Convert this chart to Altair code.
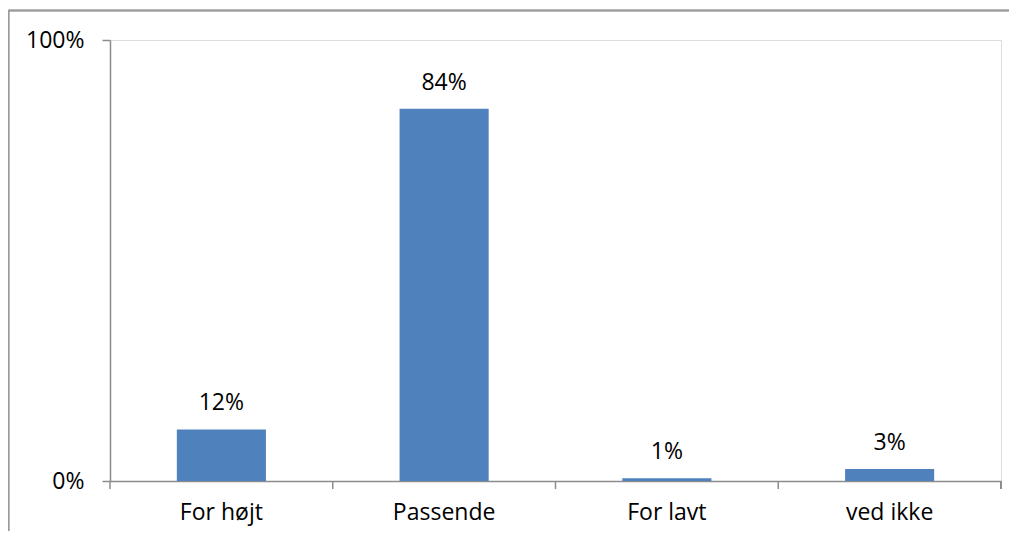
import altair as alt
import pandas as pd

categories = ["For højt", "Passende", "For lavt", "ved ikke"]
shares = [0.117, 0.844, 0.006, 0.027]

df = pd.DataFrame({"kategori": categories, "andel": shares})

FONT = "Open Sans"
AXIS_GRAY = "#8C8C8C"
FS = 23
PAD_INNER = 0.6
STEP = 891 / len(categories)

x_scale = alt.Scale(paddingInner=PAD_INNER, paddingOuter=PAD_INNER / 2)

x_enc = alt.X(
    "kategori:N",
    sort=categories,
    title=None,
    scale=x_scale,
    axis=alt.Axis(
        labelAngle=0,
        ticks=False,
        domainColor=AXIS_GRAY,
        domainWidth=1.5,
        labelFont=FONT,
        labelFontSize=FS,
        labelColor="#000000",
        labelPadding=20,
    ),
)
y_enc = alt.Y(
    "andel:Q",
    title=None,
    scale=alt.Scale(domain=[0, 1], nice=False),
    axis=alt.Axis(
        values=[0, 1],
        format=".0%",
        grid=False,
        tickSize=8,
        tickWidth=1.5,
        tickColor=AXIS_GRAY,
        domainColor=AXIS_GRAY,
        domainWidth=1.5,
        labelFont=FONT,
        labelFontSize=FS,
        labelColor="#000000",
        labelPadding=18,
    ),
)

bars = alt.Chart(df).mark_bar(color="#4F81BD").encode(x=x_enc, y=y_enc)

labels = alt.Chart(df).mark_text(
    font=FONT, fontSize=FS, color="#000000", baseline="alphabetic", dy=-19
).encode(
    x=alt.X("kategori:N", sort=categories),
    y=alt.Y("andel:Q"),
    text=alt.Text("andel:Q", format=".0%"),
)

# category boundary ticks below the x axis (between bands)
xticks = alt.Chart(df).mark_rule(
    color=AXIS_GRAY, strokeWidth=1.5, xOffset=-PAD_INNER * STEP / 2
).encode(
    x=alt.X("kategori:N", sort=categories, bandPosition=0),
    y=alt.value(441),
    y2=alt.value(449),
)
xtick_end = alt.Chart(df).mark_rule(color=AXIS_GRAY, strokeWidth=1.5).encode(
    x=alt.value(891), y=alt.value(441), y2=alt.value(449)
)

frame_top = alt.Chart(df).mark_rule(color="#9A9A9A", strokeWidth=1.5).encode(
    x=alt.value(-101.5), x2=alt.value(905), y=alt.value(-29.5)
)
frame_left = alt.Chart(df).mark_rule(color="#9A9A9A", strokeWidth=1.5).encode(
    x=alt.value(-101.5), y=alt.value(-29.5), y2=alt.value(495)
)

chart = (
    alt.layer(frame_top, frame_left, bars, labels, xticks, xtick_end)
    .properties(
        width=891,
        height=441,
        autosize=alt.AutoSizeParams(type="none"),
        padding={"left": 102, "top": 32, "right": 8, "bottom": 50},
    )
    .configure_view(stroke="#A6A6A6", strokeWidth=1.5)
    .configure(background="#FFFFFF")
)

chart.save("out.html", embed_options={"renderer": "svg", "actions": False})
